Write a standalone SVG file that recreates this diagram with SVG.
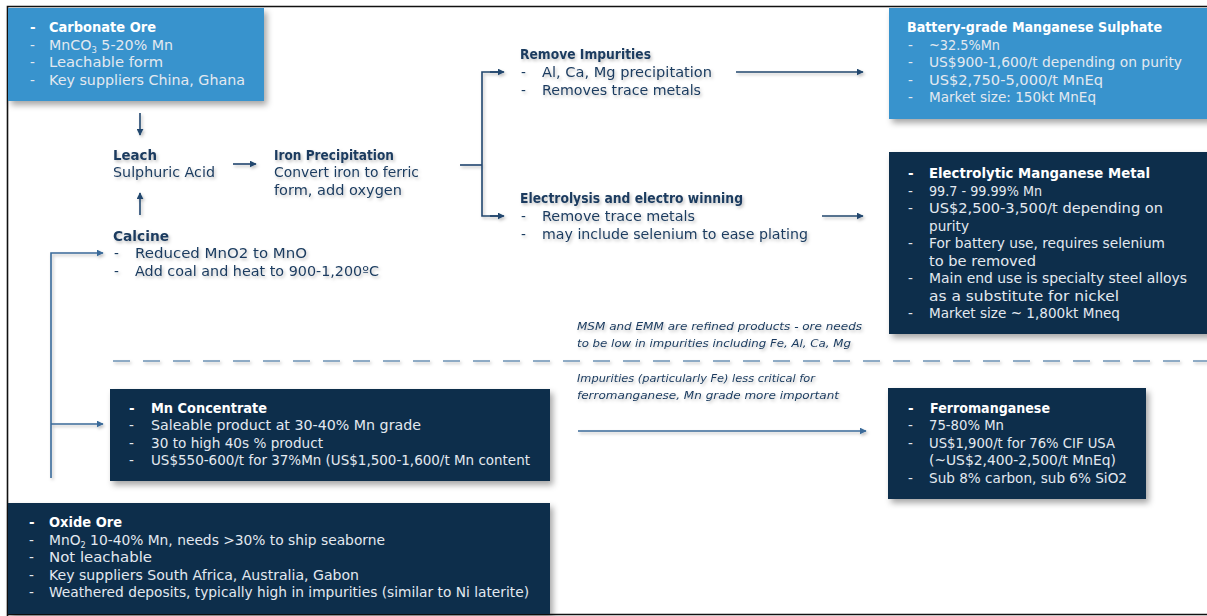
<svg xmlns="http://www.w3.org/2000/svg" width="1207" height="616" viewBox="0 0 1207 616">
<style>
.t{font-family:"DejaVu Sans","Liberation Sans",sans-serif;font-size:13.5px}
.b{font-weight:bold}
.w{fill:#ffffff}
.lg{fill:#e3e9f0}
.dk{fill:#1a3a5e}
.n{font-family:"DejaVu Sans","Liberation Sans",sans-serif;font-size:11px;font-style:italic;fill:#1a3a5e}
.blue{fill:#3793cd}
.navy{fill:#0c2d4c}
.c{stroke:#22476e;stroke-width:1.6;fill:none}
.cl{stroke:#3a6a99;stroke-width:1.6;fill:none}
</style>
<defs>
<filter id="sh" x="-10%" y="-10%" width="125%" height="130%">
<feDropShadow dx="3" dy="4" stdDeviation="3" flood-color="#000" flood-opacity="0.35"/>
</filter>
<filter id="ts" x="-5%" y="-30%" width="115%" height="170%">
<feDropShadow dx="1.5" dy="2" stdDeviation="1.8" flood-color="#000" flood-opacity="0.25"/>
</filter>
<marker id="ah" viewBox="0 0 10 10" refX="9" refY="5" markerWidth="7" markerHeight="7" orient="auto" markerUnits="userSpaceOnUse">
<path d="M0,0 L10,5 L0,10 z" fill="#22476e"/>
</marker>
<marker id="ahl" viewBox="0 0 10 10" refX="9" refY="5" markerWidth="7" markerHeight="7" orient="auto" markerUnits="userSpaceOnUse">
<path d="M0,0 L10,5 L0,10 z" fill="#3a6a99"/>
</marker>
</defs>
<rect x="0" y="0" width="1207" height="616" fill="#ffffff"/>
<path d="M7.5,616 V6.5 H1207 M7.5,614.5 H1207" stroke="#111" stroke-width="1.6" fill="none"/>

<g id="connectors" filter="url(#ts)">
<line class="c" x1="140" y1="113" x2="140" y2="135" marker-end="url(#ah)"/>
<line class="c" x1="233" y1="164" x2="256" y2="164" marker-end="url(#ah)"/>
<line class="c" x1="140" y1="215" x2="140" y2="193" marker-end="url(#ah)"/>
<path class="c" d="M460,165 H482"/>
<path class="c" d="M503,72 H482 V216 H503"/>
<line class="c" x1="490" y1="72" x2="504" y2="72" marker-end="url(#ah)"/>
<line class="c" x1="490" y1="216" x2="504" y2="216" marker-end="url(#ah)"/>
<line class="c" x1="736" y1="72" x2="863" y2="72" marker-end="url(#ah)"/>
<line class="c" x1="822" y1="216" x2="863" y2="216" marker-end="url(#ah)"/>
<path class="cl" d="M51,478 V253 H103" marker-end="url(#ahl)"/>
<line class="cl" x1="51" y1="424" x2="103" y2="424" marker-end="url(#ahl)"/>
<line class="cl" x1="578" y1="431" x2="866" y2="431" marker-end="url(#ahl)"/>
<line x1="113" y1="361" x2="1207" y2="361" stroke="#6d92b4" stroke-width="1.6" stroke-dasharray="17,13"/>
</g>

<g id="carbonate-ore">
<rect class="blue" x="8" y="8" width="256" height="93" filter="url(#sh)"/>
<text class="t b w" x="30" y="32">-</text>
<text class="t b w" x="49" y="32" textLength="107" lengthAdjust="spacingAndGlyphs">Carbonate Ore</text>
<text class="t lg" x="30" y="50">-</text>
<text class="t lg" x="49" y="50" textLength="124" lengthAdjust="spacingAndGlyphs">MnCO<tspan font-size="8" dy="3">3</tspan><tspan dy="-3"> 5-20% Mn</tspan></text>
<text class="t lg" x="30" y="67">-</text>
<text class="t lg" x="49" y="67" textLength="114" lengthAdjust="spacingAndGlyphs">Leachable form</text>
<text class="t lg" x="30" y="85">-</text>
<text class="t lg" x="49" y="85" textLength="196" lengthAdjust="spacingAndGlyphs">Key suppliers China, Ghana</text>
</g>

<g id="leach" filter="url(#ts)">
<text class="t b dk" x="113" y="160" textLength="44" lengthAdjust="spacingAndGlyphs">Leach</text>
<text class="t dk" x="113" y="177" textLength="102" lengthAdjust="spacingAndGlyphs">Sulphuric Acid</text>
</g>

<g id="iron-precipitation" filter="url(#ts)">
<text class="t b dk" x="274" y="160" textLength="120" lengthAdjust="spacingAndGlyphs">Iron Precipitation</text>
<text class="t dk" x="274" y="177" textLength="145" lengthAdjust="spacingAndGlyphs">Convert iron to ferric</text>
<text class="t dk" x="274" y="195" textLength="128" lengthAdjust="spacingAndGlyphs">form, add oxygen</text>
</g>

<g id="calcine" filter="url(#ts)">
<text class="t b dk" x="113" y="241" textLength="56" lengthAdjust="spacingAndGlyphs">Calcine</text>
<text class="t dk" x="114" y="258">-</text>
<text class="t dk" x="135" y="258" textLength="172" lengthAdjust="spacingAndGlyphs">Reduced MnO2 to MnO</text>
<text class="t dk" x="114" y="276">-</text>
<text class="t dk" x="135" y="276" textLength="244" lengthAdjust="spacingAndGlyphs">Add coal and heat to 900-1,200ºC</text>
</g>

<g id="remove-impurities" filter="url(#ts)">
<text class="t b dk" x="520" y="59" textLength="131" lengthAdjust="spacingAndGlyphs">Remove Impurities</text>
<text class="t dk" x="521" y="77">-</text>
<text class="t dk" x="542" y="77" textLength="170" lengthAdjust="spacingAndGlyphs">Al, Ca, Mg precipitation</text>
<text class="t dk" x="521" y="95">-</text>
<text class="t dk" x="542" y="95" textLength="159" lengthAdjust="spacingAndGlyphs">Removes trace metals</text>
</g>

<g id="electrolysis" filter="url(#ts)">
<text class="t b dk" x="520" y="203" textLength="223" lengthAdjust="spacingAndGlyphs">Electrolysis and electro winning</text>
<text class="t dk" x="521" y="221">-</text>
<text class="t dk" x="542" y="221" textLength="153" lengthAdjust="spacingAndGlyphs">Remove trace metals</text>
<text class="t dk" x="521" y="239">-</text>
<text class="t dk" x="542" y="239" textLength="266" lengthAdjust="spacingAndGlyphs">may include selenium to ease plating</text>
</g>

<g id="battery-grade-msm">
<rect class="blue" x="889" y="8" width="330" height="111" filter="url(#sh)"/>
<text class="t b w" x="907" y="32" textLength="255" lengthAdjust="spacingAndGlyphs">Battery-grade Manganese Sulphate</text>
<text class="t lg" x="908" y="50">-</text>
<text class="t lg" x="929" y="50" textLength="71" lengthAdjust="spacingAndGlyphs">~32.5%Mn</text>
<text class="t lg" x="908" y="67">-</text>
<text class="t lg" x="929" y="67" textLength="253" lengthAdjust="spacingAndGlyphs">US$900-1,600/t depending on purity</text>
<text class="t lg" x="908" y="85">-</text>
<text class="t lg" x="929" y="85" textLength="174" lengthAdjust="spacingAndGlyphs">US$2,750-5,000/t MnEq</text>
<text class="t lg" x="908" y="102">-</text>
<text class="t lg" x="929" y="102" textLength="167" lengthAdjust="spacingAndGlyphs">Market size: 150kt MnEq</text>
</g>

<g id="emm">
<rect class="navy" x="889" y="152" width="330" height="182" filter="url(#sh)"/>
<text class="t b w" x="908" y="178">-</text>
<text class="t b w" x="929" y="178" textLength="221" lengthAdjust="spacingAndGlyphs">Electrolytic Manganese Metal</text>
<text class="t lg" x="908" y="195.5">-</text>
<text class="t lg" x="929" y="195.5" textLength="113" lengthAdjust="spacingAndGlyphs">99.7 - 99.99% Mn</text>
<text class="t lg" x="908" y="213">-</text>
<text class="t lg" x="929" y="213" textLength="234" lengthAdjust="spacingAndGlyphs">US$2,500-3,500/t depending on</text>
<text class="t lg" x="929" y="230.5" textLength="40" lengthAdjust="spacingAndGlyphs">purity</text>
<text class="t lg" x="908" y="248">-</text>
<text class="t lg" x="929" y="248" textLength="236" lengthAdjust="spacingAndGlyphs">For battery use, requires selenium</text>
<text class="t lg" x="929" y="265.5" textLength="107" lengthAdjust="spacingAndGlyphs">to be removed</text>
<text class="t lg" x="908" y="283">-</text>
<text class="t lg" x="929" y="283" textLength="258" lengthAdjust="spacingAndGlyphs">Main end use is specialty steel alloys</text>
<text class="t lg" x="929" y="300.5" textLength="190" lengthAdjust="spacingAndGlyphs">as a substitute for nickel</text>
<text class="t lg" x="908" y="318">-</text>
<text class="t lg" x="929" y="318" textLength="191" lengthAdjust="spacingAndGlyphs">Market size ~ 1,800kt Mneq</text>
</g>

<g id="note-refined" filter="url(#ts)">
<text class="n" x="577" y="330" textLength="285" lengthAdjust="spacingAndGlyphs">MSM and EMM are refined products - ore needs</text>
<text class="n" x="577" y="347" textLength="274" lengthAdjust="spacingAndGlyphs">to be low in impurities including Fe, Al, Ca, Mg</text>
</g>

<g id="note-ferro" filter="url(#ts)">
<text class="n" x="577" y="382" textLength="238" lengthAdjust="spacingAndGlyphs">Impurities (particularly Fe) less critical for</text>
<text class="n" x="577" y="399" textLength="262" lengthAdjust="spacingAndGlyphs">ferromanganese, Mn grade more important</text>
</g>

<g id="mn-concentrate">
<rect class="navy" x="110" y="389" width="440" height="92" filter="url(#sh)"/>
<text class="t b w" x="129" y="413">-</text>
<text class="t b w" x="151" y="413" textLength="116" lengthAdjust="spacingAndGlyphs">Mn Concentrate</text>
<text class="t lg" x="129" y="430">-</text>
<text class="t lg" x="151" y="430" textLength="270" lengthAdjust="spacingAndGlyphs">Saleable product at 30-40% Mn grade</text>
<text class="t lg" x="129" y="448">-</text>
<text class="t lg" x="151" y="448" textLength="172" lengthAdjust="spacingAndGlyphs">30 to high 40s % product</text>
<text class="t lg" x="129" y="465">-</text>
<text class="t lg" x="151" y="465" textLength="379" lengthAdjust="spacingAndGlyphs">US$550-600/t for 37%Mn (US$1,500-1,600/t Mn content</text>
</g>

<g id="ferromanganese">
<rect class="navy" x="888" y="388" width="258" height="111" filter="url(#sh)"/>
<text class="t b w" x="908" y="413">-</text>
<text class="t b w" x="930" y="413" textLength="120" lengthAdjust="spacingAndGlyphs">Ferromanganese</text>
<text class="t lg" x="908" y="430">-</text>
<text class="t lg" x="929" y="430" textLength="75" lengthAdjust="spacingAndGlyphs">75-80% Mn</text>
<text class="t lg" x="908" y="448">-</text>
<text class="t lg" x="929" y="448" textLength="186" lengthAdjust="spacingAndGlyphs">US$1,900/t for 76% CIF USA</text>
<text class="t lg" x="929" y="465" textLength="187" lengthAdjust="spacingAndGlyphs">(~US$2,400-2,500/t MnEq)</text>
<text class="t lg" x="908" y="483">-</text>
<text class="t lg" x="929" y="483" textLength="198" lengthAdjust="spacingAndGlyphs">Sub 8% carbon, sub 6% SiO2</text>
</g>

<g id="oxide-ore">
<rect class="navy" x="8" y="503" width="542" height="111" filter="url(#sh)"/>
<text class="t b w" x="29" y="527">-</text>
<text class="t b w" x="49" y="527" textLength="73" lengthAdjust="spacingAndGlyphs">Oxide Ore</text>
<text class="t lg" x="29" y="545">-</text>
<text class="t lg" x="49" y="545" textLength="336" lengthAdjust="spacingAndGlyphs">MnO<tspan font-size="8" dy="3">2</tspan><tspan dy="-3"> 10-40% Mn, needs &gt;30% to ship seaborne</tspan></text>
<text class="t lg" x="29" y="562">-</text>
<text class="t lg" x="49" y="562" textLength="103" lengthAdjust="spacingAndGlyphs">Not leachable</text>
<text class="t lg" x="29" y="580">-</text>
<text class="t lg" x="49" y="580" textLength="310" lengthAdjust="spacingAndGlyphs">Key suppliers South Africa, Australia, Gabon</text>
<text class="t lg" x="29" y="597">-</text>
<text class="t lg" x="49" y="597" textLength="480" lengthAdjust="spacingAndGlyphs">Weathered deposits, typically high in impurities (similar to Ni laterite)</text>
</g>
</svg>
